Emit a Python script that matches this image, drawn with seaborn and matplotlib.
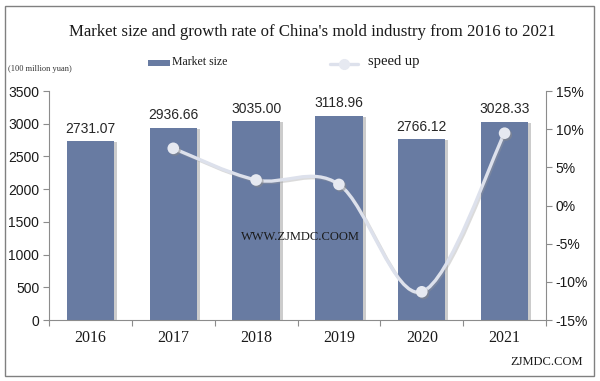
import numpy as np
import pandas as pd
import matplotlib
matplotlib.use("Agg")
import matplotlib.pyplot as plt
import seaborn as sns
from matplotlib.path import Path
from matplotlib.patches import PathPatch, Rectangle
from matplotlib.lines import Line2D
from matplotlib import patheffects as pe
from matplotlib.ticker import FuncFormatter

years = ["2016", "2017", "2018", "2019", "2020", "2021"]
market_size = [2731.07, 2936.66, 3035.00, 3118.96, 2766.12, 3028.33]
growth_years = ["2017", "2018", "2019", "2020", "2021"]
growth_rate = [0.075, 0.0335, 0.0277, -0.113, 0.0948]
left_ticks = [0, 500, 1000, 1500, 2000, 2500, 3000, 3500]
right_ticks = [-0.15, -0.10, -0.05, 0.0, 0.05, 0.10, 0.15]

BAR = "#687BA2"
LINE = "#DDE1EC"
GRID = "#8C8C8C"
SERIF = "Liberation Serif"
SANS = "Liberation Sans"

sns.set_theme(style="white")
plt.rcParams["font.family"] = [SANS, "DejaVu Sans"]

fig = plt.figure(figsize=(6, 3.81), dpi=100)
ax = fig.add_axes([0.0817, 0.160, 0.8283, 0.601])

df = pd.DataFrame({"year": years, "size": market_size})
sns.barplot(data=df, x="year", y="size", ax=ax, color=BAR, width=0.57,
            saturation=1, order=years)
for p in ax.patches:
    p.set_path_effects([pe.SimplePatchShadow(offset=(2.2, -0.5), shadow_rgbFace="#9a9a9a", alpha=0.5),
                        pe.Normal()])
    p.set_linewidth(0)

for i, v in enumerate(market_size):
    ax.annotate(f"{v:.2f}", (i, v), xytext=(0, 4), textcoords="offset points",
                ha="center", va="bottom", fontsize=10, color="#262626", family=SANS)

ax.set_ylim(0, 3500)
ax.set_yticks(left_ticks)
ax.set_xlim(-0.5, len(years) - 0.5)
ax.set_xlabel("")
ax.set_ylabel("")
ax.tick_params(axis="y", which="both", left=True, length=4, width=0.8, color=GRID,
               labelsize=10, pad=3, labelcolor="#1a1a1a")
ax.set_xticks(np.arange(len(years)))
ax.set_xticklabels(years, family=SERIF, fontsize=11.5, color="#1a1a1a")
ax.tick_params(axis="x", length=0, pad=7)
ax.set_xticks(np.arange(len(years) + 1) - 0.5, minor=True)
ax.tick_params(axis="x", which="minor", bottom=True, length=4, width=0.8, color=GRID)
for s in ["top", "right"]:
    ax.spines[s].set_visible(False)
for s in ["left", "bottom"]:
    ax.spines[s].set_color(GRID)
    ax.spines[s].set_linewidth(0.8)
ax.grid(False)

ax2 = ax.twinx()
ax2.set_ylim(-0.15, 0.15)
ax2.set_yticks(right_ticks)
ax2.yaxis.set_major_formatter(FuncFormatter(lambda v, _: f"{v*100:.0f}%"))
ax2.tick_params(axis="y", right=True, length=4, width=0.8, color=GRID,
                labelsize=10, pad=3, labelcolor="#1a1a1a")
for s in ["top", "left", "bottom"]:
    ax2.spines[s].set_visible(False)
ax2.spines["right"].set_color(GRID)
ax2.spines["right"].set_linewidth(0.8)
ax2.grid(False)

# smooth (Catmull-Rom style) rendering of the growth line
gx = np.array([years.index(y) for y in growth_years], dtype=float)
gy = np.array(growth_rate, dtype=float)
pts = np.column_stack([gx, gy])
ext = np.vstack([pts[0], pts, pts[-1]])
verts = [tuple(pts[0])]
codes = [Path.MOVETO]
for k in range(len(pts) - 1):
    p0, p1, p2, p3 = ext[k], ext[k + 1], ext[k + 2], ext[k + 3]
    c1 = p1 + (p2 - p0) / 6.0
    c2 = p2 - (p3 - p1) / 6.0
    verts += [tuple(c1), tuple(c2), tuple(p2)]
    codes += [Path.CURVE4] * 3
curve = PathPatch(Path(verts, codes), facecolor="none", edgecolor=LINE, lw=2.4,
                  capstyle="round", joinstyle="round",
                  path_effects=[pe.SimpleLineShadow(offset=(1, -1), shadow_color="#9a9a9a", alpha=0.35),
                                pe.Normal()])
ax2.add_patch(curve)

gdf = pd.DataFrame({"x": gx, "rate": gy})
sns.scatterplot(data=gdf, x="x", y="rate", ax=ax2, color="#E6E9F1", s=70,
                edgecolor="none", zorder=5, legend=False,
                path_effects=[pe.SimplePatchShadow(offset=(1.2, -1.2), shadow_rgbFace="#8a8a8a", alpha=0.5),
                              pe.Normal()])
ax2.set_xlabel("")
ax2.set_ylabel("")
ax.set_xlim(-0.5, len(years) - 0.5)

# title & texts
fig.text(0.52, 0.915, "Market size and growth rate of China's mold industry from 2016 to 2021",
         ha="center", va="center", family=SERIF, fontsize=12.1, color="#1a1a1a")
fig.text(0.013, 0.818, "(100 million yuan)", ha="left", va="center", family=SERIF,
         fontsize=6, color="#333333")

# legend
fig.patches.append(Rectangle((148 / 600, 1 - 66 / 381), 22 / 600, 6 / 381,
                             transform=fig.transFigure, facecolor=BAR, edgecolor="none"))
fig.text(172 / 600, 1 - 62 / 381, "Market size", ha="left", va="center", family=SERIF,
         fontsize=8.5, color="#1a1a1a")
fig.lines.append(Line2D([330 / 600, 358 / 600], [1 - 64 / 381, 1 - 64 / 381],
                        transform=fig.transFigure, color=LINE, lw=2.4))
fig.lines.append(Line2D([344 / 600], [1 - 64 / 381], transform=fig.transFigure, marker="o",
                        markersize=7, color="#E6E9F1", lw=0))
fig.text(368 / 600, 1 - 62 / 381, "speed up", ha="left", va="center", family=SERIF,
         fontsize=10.5, color="#1a1a1a")

fig.text(300 / 600, 1 - 237 / 381, "WWW.ZJMDC.COOM", ha="center", va="center",
         family=SERIF, fontsize=9, color="#1a1a1a")
fig.text(583 / 600, 1 - 362 / 381, "ZJMDC.COM", ha="right", va="center",
         family=SERIF, fontsize=9, color="#1a1a1a")

# outer frame
fig.patches.append(Rectangle((5 / 600, 5 / 381), 589 / 600, 370 / 381, transform=fig.transFigure,
                             facecolor="none", edgecolor="#808080", lw=1.0))

fig.savefig("out.png", dpi=100)
